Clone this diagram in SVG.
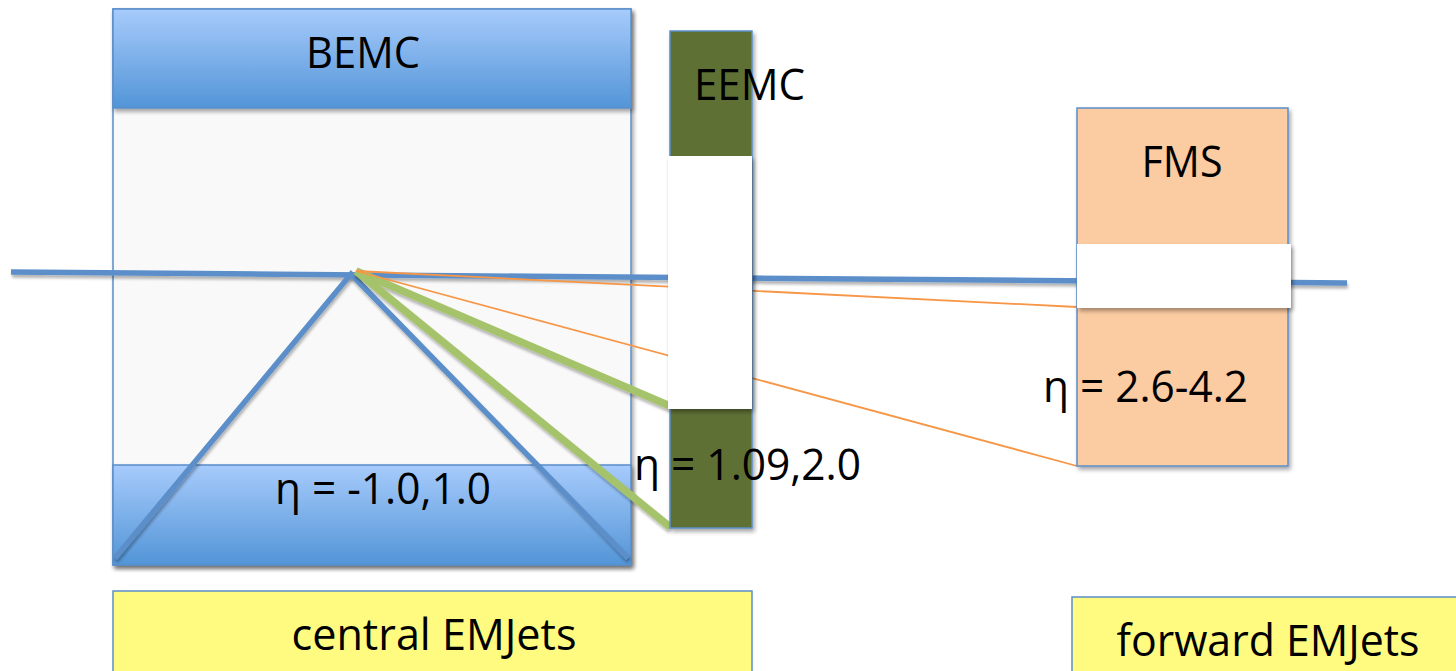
<svg xmlns="http://www.w3.org/2000/svg" width="1456" height="671" viewBox="0 0 1456 671">
  <defs>
    <linearGradient id="bandGrad" x1="0" y1="0" x2="0" y2="1">
      <stop offset="0" stop-color="#a7cbfc"/>
      <stop offset="1" stop-color="#5295d7"/>
    </linearGradient>
    <filter id="shadow" x="-10%" y="-10%" width="120%" height="130%">
      <feGaussianBlur in="SourceAlpha" stdDeviation="2"/>
      <feOffset dx="2" dy="3" result="blur"/>
      <feComponentTransfer><feFuncA type="linear" slope="0.35"/></feComponentTransfer>
      <feMerge><feMergeNode/><feMergeNode in="SourceGraphic"/></feMerge>
    </filter>
    <filter id="lineShadow" filterUnits="userSpaceOnUse" x="0" y="0" width="1456" height="671">
      <feGaussianBlur in="SourceAlpha" stdDeviation="1.5"/>
      <feOffset dx="1" dy="3"/>
      <feComponentTransfer><feFuncA type="linear" slope="0.3"/></feComponentTransfer>
      <feMerge><feMergeNode/><feMergeNode in="SourceGraphic"/></feMerge>
    </filter>
  </defs>
  <style>
    text { font-family: "Open Sans", "Liberation Sans", sans-serif; fill: #000; }
    .lbl { font-size: 43px; }
    .edge { stroke: #5b8fc9; stroke-width: 1.5; }
    .beam { stroke: #5b8fca; stroke-width: 5.5; fill: none; }
    .cone { stroke: #5b8fca; stroke-width: 5.5; fill: none; stroke-linecap: butt; }
    .jet { stroke: #a5c36a; stroke-width: 7.5; fill: none; }
    .fwd { stroke: #f79646; stroke-width: 1.8; fill: none; }
  </style>

  <rect width="1456" height="671" fill="#ffffff"/>

  <!-- Barrel calorimeter -->
  <g id="bemc">
    <rect x="113" y="9" width="518" height="556" fill="#f9f9f9" class="edge" filter="url(#shadow)"/>
    <rect x="113" y="9" width="518" height="99" fill="url(#bandGrad)" class="edge" filter="url(#shadow)"/>
    <rect x="113" y="465" width="518" height="100" fill="url(#bandGrad)" class="edge" filter="url(#shadow)"/>
    <text x="363" y="68" class="lbl" text-anchor="middle" textLength="114" lengthAdjust="spacingAndGlyphs">BEMC</text>
    <text x="383" y="504" class="lbl" text-anchor="middle" textLength="216" lengthAdjust="spacingAndGlyphs">η = -1.0,1.0</text>
  </g>

  <!-- Beam axis, cone edges and particle tracks -->
  <g id="connectors">
    <line x1="11" y1="272" x2="1347" y2="283" class="beam" filter="url(#lineShadow)"/>
    <polyline points="115,558 351,274 628,558" class="cone" filter="url(#lineShadow)"/>
    <line x1="356" y1="271" x2="670" y2="406" class="jet" filter="url(#lineShadow)"/>
    <line x1="356" y1="271" x2="670" y2="527" class="jet" filter="url(#lineShadow)"/>
    <line x1="356" y1="271" x2="1077" y2="307" class="fwd"/>
    <line x1="356" y1="271" x2="1077" y2="466" class="fwd"/>
  </g>

  <!-- Endcap calorimeter -->
  <g id="eemc">
    <rect x="670" y="31" width="82" height="497" fill="#5f7035" class="edge" filter="url(#shadow)"/>
    <rect x="668" y="156" width="84" height="253" fill="#ffffff" filter="url(#shadow)"/>
    <text x="694" y="100" class="lbl" textLength="111" lengthAdjust="spacingAndGlyphs">EEMC</text>
    <text x="634" y="480" class="lbl" textLength="227" lengthAdjust="spacingAndGlyphs">η = 1.09,2.0</text>
  </g>

  <!-- Forward meson spectrometer -->
  <g id="fms">
    <rect x="1077" y="108" width="211" height="358" fill="#fbcba1" class="edge" filter="url(#shadow)"/>
    <rect x="1077" y="244" width="214" height="64" fill="#ffffff" filter="url(#shadow)"/>
    <text x="1182" y="177" class="lbl" text-anchor="middle" textLength="81" lengthAdjust="spacingAndGlyphs">FMS</text>
    <text x="1043" y="402" class="lbl" textLength="205" lengthAdjust="spacingAndGlyphs">η = 2.6-4.2</text>
  </g>

  <!-- Jet category labels -->
  <g id="central-emjets">
    <rect x="113" y="591" width="639" height="84" fill="#fffb80" class="edge"/>
    <text x="434" y="650" class="lbl" text-anchor="middle" textLength="285" lengthAdjust="spacingAndGlyphs">central EMJets</text>
  </g>
  <g id="forward-emjets">
    <rect x="1072" y="597" width="390" height="80" fill="#fffb80" class="edge"/>
    <text x="1268" y="656" class="lbl" text-anchor="middle" textLength="303" lengthAdjust="spacingAndGlyphs">forward EMJets</text>
  </g>
</svg>
